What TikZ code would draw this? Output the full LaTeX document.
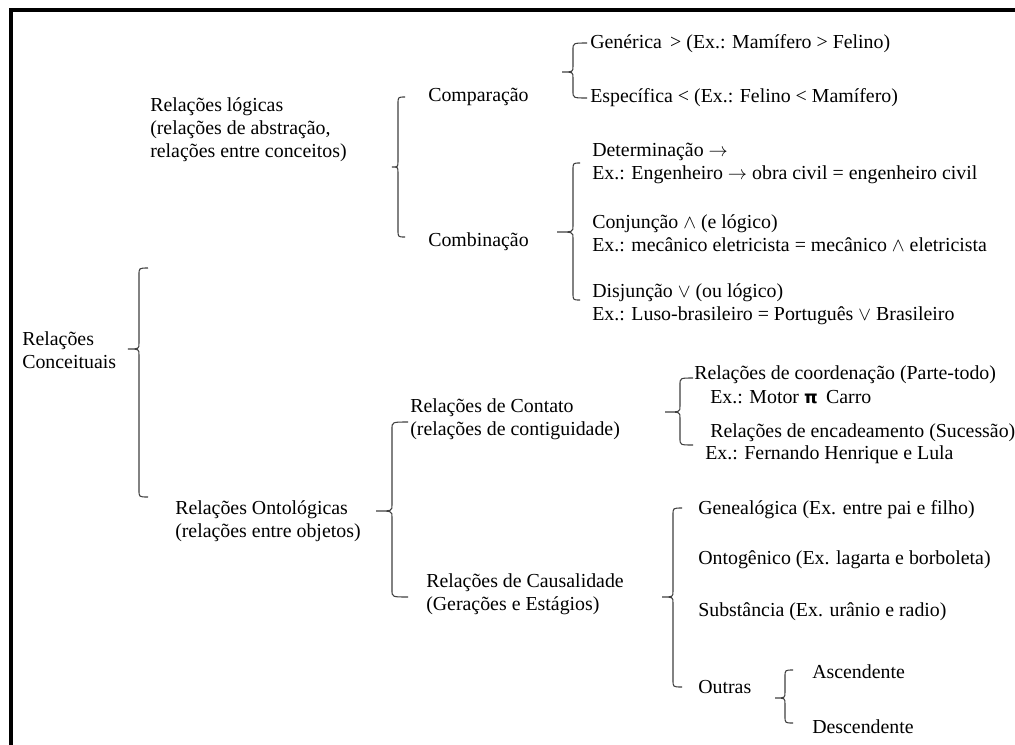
\documentclass[tikz,border=0pt]{standalone}
\usepackage{fontspec}
\setmainfont{Liberation Serif}
\newfontfamily\pisym{DejaVu Sans}
% curly brace opening to the right: x, top, tip, bottom, hook end x, tip x
\newcommand\cbrace[6]{%
  \draw[brc] (#5,#2) .. controls (#1,#2) .. ({#1},{#2+7})
    -- ({#1},{#3-6}) .. controls (#1,#3) .. (#6,#3)
    .. controls (#1,#3) .. ({#1},{#3+6})
    -- ({#1},{#4-7}) .. controls (#1,#4) .. (#5,#4);}
\begin{document}
\begin{tikzpicture}[x=0.75pt,y=-0.75pt,
  txt/.style={anchor=west,inner sep=0pt,align=left,
    font=\fontsize{14.9}{17.25}\selectfont},
  brc/.style={draw=black!75,line width=0.8pt},
  frame/.style={line width=3pt,line join=miter}]
\useasboundingbox (0,0) rectangle (1015,744);
\fill[white] (0,0) rectangle (1015,744);
\begin{scope}
\clip (0,0) rectangle (1015,744);
\draw[frame] (11,760) -- (11,10) -- (1040,10);
\end{scope}

% root
\node[txt] (conc) at (22,350) {Relações\\Conceituais};

% logical relations
\node[txt] (logic) at (150,130) {Relações lógicas\\(relações de abstração,\\relações entre conceitos)};
\node[txt] (comp) at (428,97) {Comparação};
\node[txt] (comb) at (428,242) {Combinação};
\node[txt] (gen) at (590,44) {Genérica \,> (Ex.: Mamífero > Felino)};
\node[txt] (esp) at (590,98) {Específica < (Ex.: Felino < Mamífero)};
\node[txt] (det) at (592,163) {Determinação $\rightarrow$\\Ex.: Engenheiro $\rightarrow$ obra civil = engenheiro civil};
\node[txt] (conj) at (592,233) {Conjunção $\wedge$ (e lógico)\\Ex.: mecânico eletricista = mecânico $\wedge$ eletricista};
\node[txt] (disj) at (592,304) {Disjunção $\vee$ (ou lógico)\\Ex.: Luso-brasileiro = Português $\vee$ Brasileiro};

% ontological relations
\node[txt] (onto) at (175,521) {Relações Ontológicas\\(relações entre objetos)};
\node[txt] (cont) at (410,419) {Relações de Contato\\(relações de contiguidade)};
\node[txt] (caus) at (426,594) {Relações de Causalidade\\(Gerações e Estágios)};
\node[txt] (coord) at (694,375) {Relações de coordenação (Parte-todo)};
\node[txt] (motor) at (710,397) {Ex.: Motor {\pisym\bfseries\fontsize{13}{15}\selectfont π}\, Carro};
\node[txt] (enc) at (710,433) {Relações de encadeamento (Sucessão)};
\node[txt] (fern) at (705,455) {Ex.: Fernando Henrique e Lula};
\node[txt] (genea) at (698,510) {Genealógica (Ex. entre pai e filho)};
\node[txt] (ontog) at (698,560) {Ontogênico (Ex. lagarta e borboleta)};
\node[txt] (subs) at (698,612) {Substância (Ex. urânio e radio)};
\node[txt] (outras) at (698,687) {Outras};
\node[txt] (asc) at (812,672) {Ascendente};
\node[txt] (desc) at (812,727) {Descendente};

% braces
\cbrace{139}{268}{349}{497}{148}{128}
\cbrace{398}{97}{167}{237}{405}{392}
\cbrace{573}{43}{72}{98}{587}{562}
\cbrace{573}{163}{232}{300}{580}{557}
\cbrace{392}{422}{511}{597}{408}{376}
\cbrace{680}{378}{412}{445}{693}{665}
\cbrace{673}{508}{597}{687}{682}{662}
\cbrace{785}{670}{698}{723}{793}{775}
\end{tikzpicture}
\end{document}
